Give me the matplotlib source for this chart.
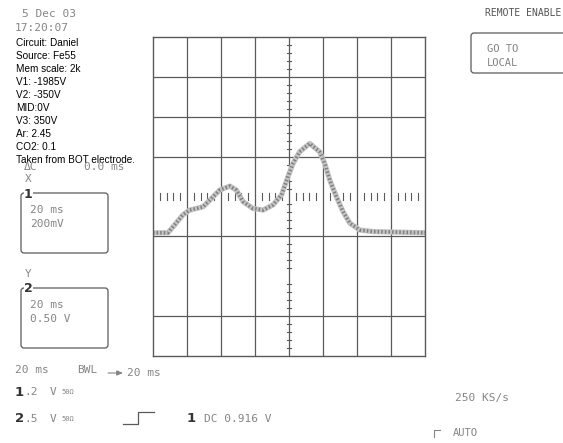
#!/usr/bin/env python3
"""Oscilloscope screen capture: Fe55 pulse, BOT electrode."""

import matplotlib

matplotlib.use("Agg")
import matplotlib.pyplot as plt
from matplotlib.patches import FancyBboxPatch
import numpy as np

W, H = 563, 443

# trace: time in ms (20 ms/div), amplitude in divisions
trace_t_ms = [0.0, 8.8, 11.8, 17.6, 21.6, 29.4, 34.4, 39.2, 45.2, 49.0, 53.0, 58.8,
              64.8, 70.6, 75.6, 79.4, 82.4, 86.2, 92.2, 98.0, 101.0, 104.0, 107.8,
              111.8, 115.8, 121.6, 129.4, 160.0]
trace_div = [-0.91, -0.91, -0.76, -0.46, -0.34, -0.26, -0.05, 0.16, 0.26, 0.16, -0.13,
             -0.30, -0.34, -0.21, 0.04, 0.50, 0.83, 1.12, 1.33, 1.12, 0.83, 0.41, 0.0,
             -0.38, -0.67, -0.84, -0.88, -0.91]

# graticule lines actually visible on the capture (divisions)
hlines_div = [3, 2, 1, -1, -3]
vlines_ms = [20, 40, 60, 100, 120, 140]

notes = ["Circuit: Daniel", "Source: Fe55", "Mem scale: 2k", "V1: -1985V", "V2: -350V",
         "MID:0V", "V3: 350V", "Ar: 2.45", "CO2: 0.1", "Taken from BOT electrode."]

date_str = "5 Dec 03"
time_str = "17:20:07"
cursor_label = ["ΔC", "0.0 ms"]
ch_boxes = [("X", "1", "20 ms", "200mV"), ("Y", "2", "20 ms", "0.50 V")]
ch_scales = [("1", ".2", "V", "50Ω"), ("2", ".5", "V", "50Ω")]
timebase = "20 ms"
bwl = "BWL"
delay = "20 ms"
trigger = ("1", "DC 0.916 V")
sample_rate = "250 KS/s"

SCOPE = "#858585"
GRID = "#5a5a5a"
MONO = "DejaVu Sans Mono"


def main() -> int:
    fig = plt.figure(figsize=(W / 100, H / 100), dpi=100)

    # overlay in pixel coordinates for all the screen text
    ov = fig.add_axes([0, 0, 1, 1])
    ov.set_xlim(0, W)
    ov.set_ylim(H, 0)
    ov.axis("off")

    # scope graticule
    left, right, top, bottom = 153, 425, 37, 356
    ax = fig.add_axes([left / W, 1 - bottom / H, (right - left) / W, (bottom - top) / H])
    ax.set_xlim(0, 160)
    ax.set_ylim(-4, 4)
    ax.set_xticks([])
    ax.set_yticks([])
    for sp in ax.spines.values():
        sp.set_color(GRID)
        sp.set_linewidth(1.0)
    ax.patch.set_alpha(0)
    for yv in hlines_div:
        ax.axhline(yv, color=GRID, lw=0.9)
    for xv in vlines_ms:
        ax.axvline(xv, color=GRID, lw=0.9)
    ax.axvline(80, color=GRID, lw=0.9)
    # minor ticks on the centre axes
    for i in range(-20, 21):
        if i % 5 == 0:
            continue
        ax.plot([79.0, 81.0], [i * 0.2, i * 0.2], color=GRID, lw=0.8)
    for i in range(0, 41):
        if i % 5 == 0:
            continue
        ax.plot([i * 4, i * 4], [-0.08, 0.08], color=GRID, lw=0.8)

    t = np.array(trace_t_ms)
    v = np.array(trace_div)
    ax.plot(t, v, color="#c4c4c4", lw=3.8, solid_joinstyle="round", solid_capstyle="butt")
    ax.plot(t, v, color="#777777", lw=2.6, ls=(0, (0.4, 0.6)), alpha=0.9)

    # header
    ov.text(22, 14, date_str, family=MONO, fontsize=8, color=SCOPE, va="center")
    ov.text(15, 28, time_str, family=MONO, fontsize=8, color=SCOPE, va="center")
    for k, line in enumerate(notes):
        ov.text(16, 43 + k * 13.0, line, family="Liberation Sans", fontsize=7.2,
                color="black", va="center")

    ov.text(24, 167, cursor_label[0], family=MONO, fontsize=8, color=SCOPE, va="center")
    ov.text(84, 167, cursor_label[1], family=MONO, fontsize=8, color=SCOPE, va="center")

    for j, (axis_lbl, num, tb, vd) in enumerate(ch_boxes):
        y0 = 193 + j * 95
        ov.text(25, y0 - 14, axis_lbl, family=MONO, fontsize=8, color=SCOPE, va="center")
        ov.add_patch(FancyBboxPatch((21, y0), 87, 60, boxstyle="round,pad=0,rounding_size=3",
                                    fc="none", ec=GRID, lw=0.9))
        ov.text(24, y0 + 1, num, fontsize=9, fontweight="bold", color="#333333", va="center",
                bbox=dict(fc="white", ec="none", pad=0.3))
        ov.text(30, y0 + 17, tb, family=MONO, fontsize=8, color=SCOPE, va="center")
        ov.text(30, y0 + 31, vd, family=MONO, fontsize=8, color=SCOPE, va="center")

    # bottom status lines
    ov.text(15, 370, timebase, family=MONO, fontsize=8, color=SCOPE, va="center")
    ov.text(77, 370, bwl, family=MONO, fontsize=8, color=SCOPE, va="center")
    ov.annotate("", xy=(123, 373), xytext=(108, 373),
                arrowprops=dict(arrowstyle="-|>,head_length=0.35,head_width=0.15",
                                color=SCOPE, lw=0.8, shrinkA=0, shrinkB=0))
    ov.text(127, 373, delay, family=MONO, fontsize=8, color=SCOPE, va="center")
    for j, (num, vdiv, unit, imp) in enumerate(ch_scales):
        y = 392 + j * 27
        ov.text(15, y, num, fontsize=9.5, fontweight="bold", color="#333333", va="center")
        ov.text(24, y, vdiv, family=MONO, fontsize=8, color=SCOPE, va="center")
        ov.text(50, y, unit, family=MONO, fontsize=8, color=SCOPE, va="center")
        ov.text(61, y, imp, family=MONO, fontsize=5, color=SCOPE, va="center")
    ov.plot([123, 138, 138, 154], [424, 424, 412, 412], color=GRID, lw=0.9)
    ov.text(187, 419, trigger[0], fontsize=9.5, fontweight="bold", color="#333333", va="center")
    ov.text(204, 419, trigger[1], family=MONO, fontsize=8, color=SCOPE, va="center")
    ov.text(455, 398, sample_rate, family=MONO, fontsize=8, color=SCOPE, va="center")
    ov.plot([434, 434, 440], [437, 430, 430], color=SCOPE, lw=0.8)
    ov.text(453, 433, "AUTO", family=MONO, fontsize=7.5, color=SCOPE, va="center")

    # right-hand softkeys
    ov.text(485, 13, "REMOTE ENABLE", family=MONO, fontsize=7, color="#555555", va="center")
    ov.add_patch(FancyBboxPatch((471, 33), 110, 40, boxstyle="round,pad=0,rounding_size=3",
                                fc="none", ec=GRID, lw=0.9))
    ov.text(487, 49, "GO TO", family=MONO, fontsize=7.5, color=SCOPE, va="center")
    ov.text(487, 63, "LOCAL", family=MONO, fontsize=7.5, color=SCOPE, va="center")

    fig.savefig("out.png", dpi=100)
    plt.close(fig)
    return 0


if __name__ == "__main__":
    raise SystemExit(main())
